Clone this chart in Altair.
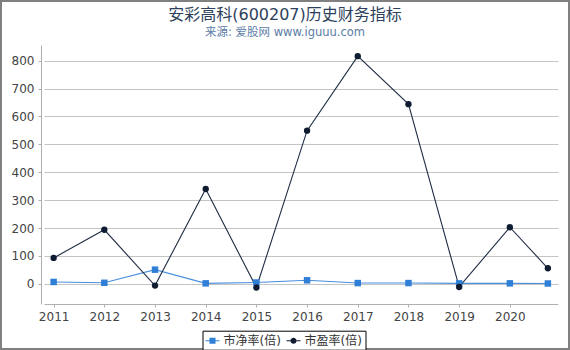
import altair as alt
import pandas as pd

years = [2011, 2012, 2013, 2014, 2015, 2016, 2017, 2018, 2019, 2020, 2020.75]
pb_values = [7, 4, 51, 2, 5, 13, 3, 3, 2, 2, 1.5]
pe_values = [93, 194, -6, 340, -13, 549, 816, 644, -11, 203, 56]
series_names = ["市净率(倍)", "市盈率(倍)"]
tick_years = [2011, 2012, 2013, 2014, 2015, 2016, 2017, 2018, 2019, 2020]
y_ticks = [0, 100, 200, 300, 400, 500, 600, 700, 800]

line_colors = ["#4a8fdc", "#1f2d44"]
marker_colors = ["#2f7fd6", "#0e1b30"]

rows = []
for y, v in zip(years, pb_values):
    rows.append({"year": y, "value": v, "series": series_names[0]})
for y, v in zip(years, pe_values):
    rows.append({"year": y, "value": v, "series": series_names[1]})
df = pd.DataFrame(rows)

FONT = "DejaVu Sans, Noto Sans CJK SC"

xenc = alt.X("year:Q", scale=alt.Scale(domain=[2010.81, 2020.95], nice=False, zero=False),
             axis=alt.Axis(values=tick_years, format="d", title=None, grid=False,
                           tickSize=3, labelPadding=4, labelFontSize=12, labelOverlap=False,
                           labelColor="#444", domainColor="#b0b0b0", tickColor="#b0b0b0",
                           labelFont=FONT))
yenc = alt.Y("value:Q", scale=alt.Scale(domain=[-72, 856], nice=False, zero=False),
             axis=alt.Axis(values=y_ticks, title=None, labelOverlap=False,
                           grid=True, gridColor="#c4c4c4", offset=3, tickSize=3,
                           labelPadding=4, labelFontSize=12, labelColor="#444",
                           domainColor="#b0b0b0", tickColor="#b0b0b0", labelFont=FONT))

base = alt.Chart(df)

pb_path = "M-1,-0.07H1V0.07H-1Z M-0.43,-0.43H0.43V0.43H-0.43Z"
pe_path = "M-1,-0.07H1V0.07H-1Z M0.43,0A0.43,0.43,0,1,1,-0.43,0A0.43,0.43,0,1,1,0.43,0Z"

legend_layer = base.mark_point(filled=True, opacity=0).encode(
    x=xenc, y=yenc,
    color=alt.Color("series:N", scale=alt.Scale(domain=series_names, range=marker_colors),
                    legend=alt.Legend(title=None)),
    shape=alt.Shape("series:N", scale=alt.Scale(domain=series_names, range=[pb_path, pe_path]),
                    legend=alt.Legend(title=None)),
)

lines = base.mark_line(strokeWidth=1.1).encode(
    x=xenc, y=yenc,
    stroke=alt.Stroke("series:N", scale=alt.Scale(domain=series_names, range=line_colors), legend=None),
    detail="series:N",
)

pts_pb = base.transform_filter(alt.datum.series == series_names[0]).mark_point(
    shape="square", filled=True, size=42, opacity=1, color=marker_colors[0]
).encode(x=xenc, y=yenc)

pts_pe = base.transform_filter(alt.datum.series == series_names[1]).mark_point(
    shape="circle", filled=True, size=40, opacity=1, color=marker_colors[1]
).encode(x=xenc, y=yenc)

border = alt.Chart(alt.Data(values=[{"a": 1}])).mark_rect(
    fill=None, stroke="#808080", strokeWidth=2, clip=False
).encode(
    x=alt.value(-43), x2=alt.value(525), y=alt.value(-44), y2=alt.value(304)
)

chart = alt.layer(legend_layer, lines, pts_pb, pts_pe, border).properties(
    width=514, height=259,
    padding={"left": 44, "top": 45, "right": 12, "bottom": 46},
    autosize=alt.AutoSizeParams(type="none"),
    title=alt.TitleParams(
        text="安彩高科(600207)历史财务指标",
        subtitle="来源: 爱股网 www.iguuu.com",
        anchor="middle", frame="group", dx=-16, dy=44, offset=6,
        font=FONT, fontSize=16, fontWeight="normal", color="#2e3f5c",
        subtitleFont=FONT, subtitleFontSize=11.5, subtitleColor="#5b7ca6",
        subtitlePadding=4,
    ),
).configure_view(stroke=None).configure_legend(
    orient="none", legendX=158.5, legendY=285.7, direction="horizontal",
    strokeColor="black", fillColor="white", padding=3, cornerRadius=0,
    symbolSize=196, symbolStrokeWidth=0, symbolOpacity=1, labelFontSize=12, labelColor="#333",
    labelFont=FONT, columnPadding=5, labelOffset=4,
)

chart.save("out.html", embed_options={"renderer": "svg", "actions": False})
